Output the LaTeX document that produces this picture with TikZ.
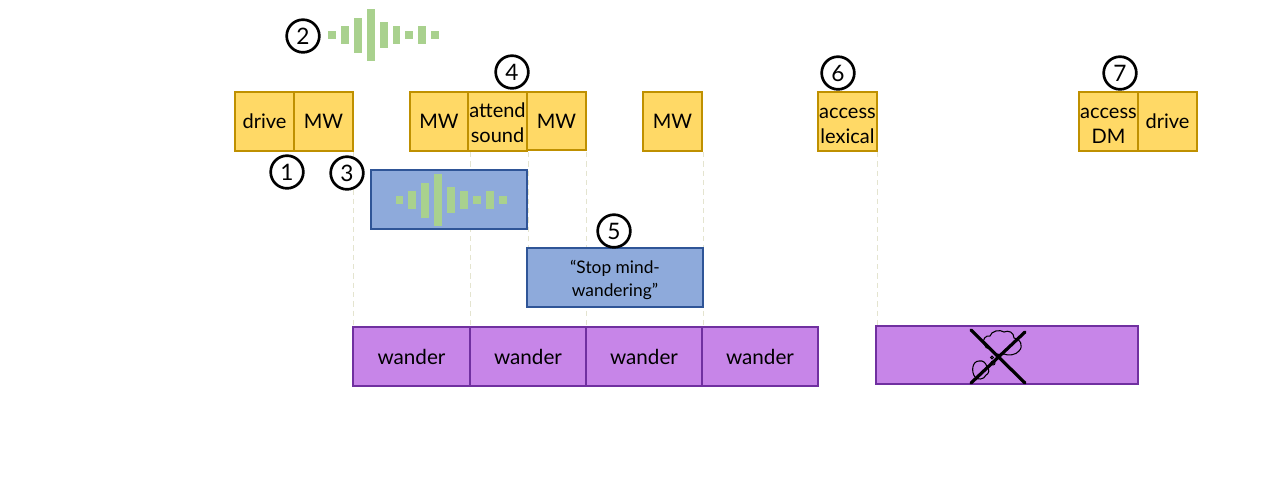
\documentclass[tikz,border=0pt]{standalone}
\usepackage{fontspec}
\setmainfont{Lato}
\definecolor{ybox}{HTML}{FFD966}
\definecolor{yline}{HTML}{BF9000}
\definecolor{bbox}{HTML}{8EAADB}
\definecolor{bline}{HTML}{2F5597}
\definecolor{pbox}{HTML}{C785E8}
\definecolor{pline}{HTML}{7030A0}
\definecolor{wave}{HTML}{A9D18E}
\definecolor{guide}{HTML}{E4E4CF}
\newcommand{\lowerby}[1]{\rule{0pt}{#1}}
\tikzset{
  box/.style={draw,line width=1.6pt,anchor=north west,inner sep=0pt,outer sep=0pt,align=center,font=\fontsize{15}{18.5}\selectfont},
  ybx/.style={box,fill=ybox,draw=yline,text=black},
  bbx/.style={box,fill=bbox,draw=bline,text=black},
  pbx/.style={box,fill=pbox,draw=pline,text=black,font=\fontsize{15.5}{18.5}\selectfont},
  num/.style={circle,draw=black,line width=2pt,fill=white,minimum size=24.5pt,inner sep=0pt,outer sep=0pt,font=\fontsize{17}{17}\selectfont},
  guideline/.style={draw=guide,line width=0.75pt,dash pattern=on 4pt off 3pt},
  bar/.style={fill=wave,draw=none},
  crossline/.style={line width=2.4pt,draw=black,line cap=round}
}
\begin{document}
\begin{tikzpicture}[x=0.75pt,y=-0.75pt]
\useasboundingbox (0,0) rectangle (1280,480);
\def\bx#1#2#3#4#5#6#7{\node[#1,minimum width={(#5-#3)*0.75pt},minimum height={(#6-#4)*0.75pt}] (#2) at (#3,#4) {#7};}
% guides
\coordinate (g1a) at (353,152); \coordinate (g1b) at (353,327);
\coordinate (g2a) at (470,152); \coordinate (g2b) at (470,327);
\coordinate (g3a) at (528,152); \coordinate (g3b) at (528,248);
\coordinate (g4a) at (586,152); \coordinate (g4b) at (586,327);
\coordinate (g5a) at (703,152); \coordinate (g5b) at (703,327);
\coordinate (g6a) at (877,152); \coordinate (g6b) at (877,327);
\foreach \g in {1,2,3,4,5,6} \draw[guideline] (g\g a) -- (g\g b);
% yellow
\bx{ybx}{y1}{235}{92}{294}{151}{drive}
\bx{ybx}{y2}{294}{92}{353}{151}{MW}
\bx{ybx}{y3}{410}{92}{468}{151}{MW}
\bx{ybx}{y4}{468}{92}{527}{151}{\lowerby{13pt}attend\\sound}
\bx{ybx}{y5}{527}{92}{586}{150}{MW}
\bx{ybx}{y6}{643}{92}{702}{151}{MW}
\bx{ybx}{y7}{818}{92}{877}{151}{\lowerby{14.5pt}access\\lexical}
\bx{ybx}{y8}{1079}{92}{1138}{151}{\lowerby{14.5pt}access\\DM}
\bx{ybx}{y9}{1138}{92}{1197}{151}{drive}
% blue
\bx{bbx}{b1}{371}{170}{527}{229}{}
\bx{bbx,font=\fontsize{13}{17}\selectfont}{b2}{527}{248}{703}{307}{\lowerby{14pt}“Stop mind-\\wandering"}
% purple
\bx{pbx}{p1}{353}{327}{470}{386}{wander}
\bx{pbx}{p2}{470}{327}{586}{386}{wander}
\bx{pbx}{p3}{586}{327}{702}{386}{wander}
\bx{pbx}{p4}{702}{327}{818}{386}{wander}
\bx{pbx}{p5}{876}{326}{1138}{384}{}
% waves
\foreach \x/\h in {331.7/8,345/18,357.7/35,370.7/52,383.7/26,396.3/18,409/8,422/18,434.7/8}
  \fill[bar] (\x-3.8,35-\h/2) rectangle (\x+3.8,35+\h/2);
\foreach \x/\h in {399.3/8,412/18,425/35,438/52,450.7/26,463.7/18,476.7/8,489.7/18,502.7/8}
  \fill[bar] (\x-3.8,200-\h/2) rectangle (\x+3.8,200+\h/2);
% clouds
\draw[line width=0.8pt]
  (984,344) .. controls (982,339) and (986,335) .. (990,336)
  .. controls (991,331) and (1000,329) .. (1004,332)
  .. controls (1008,330) and (1014,332) .. (1014,338)
  .. controls (1020,338) and (1024,346) .. (1019,351)
  .. controls (1016,355) and (1008,356) .. (1004,354)
  .. controls (999,356) and (992,353) .. (990,349)
  .. controls (987,349) and (985,347) .. (984,344) -- cycle;
\draw[line width=0.8pt]
  (975,377) .. controls (971,372) and (972,361) .. (979,361)
  .. controls (983,360) and (986,363) .. (987,367)
  .. controls (990,369) and (989,374) .. (986,375)
  .. controls (984,380) and (977,380) .. (975,377) -- cycle;
\draw[line width=0.7pt] (993,363) circle (2);
\draw[line width=0.7pt] (992,357.5) circle (1.4);
% cross
\coordinate (c1) at (971,330); \coordinate (c2) at (1025,383);
\coordinate (c3) at (1025,332); \coordinate (c4) at (971,383);
\draw[crossline] (c1) -- (c2);
\draw[crossline] (c3) -- (c4);
% numbers
\foreach \n/\lbl/\x/\y in {n1/1/287/172,n2/2/303/36,n3/3/347/173,n4/4/512/72,n5/5/614/231,n6/6/838/73,n7/7/1120/73}
  \node[num] (\n) at (\x,\y) {\lbl};
\end{tikzpicture}
\end{document}
